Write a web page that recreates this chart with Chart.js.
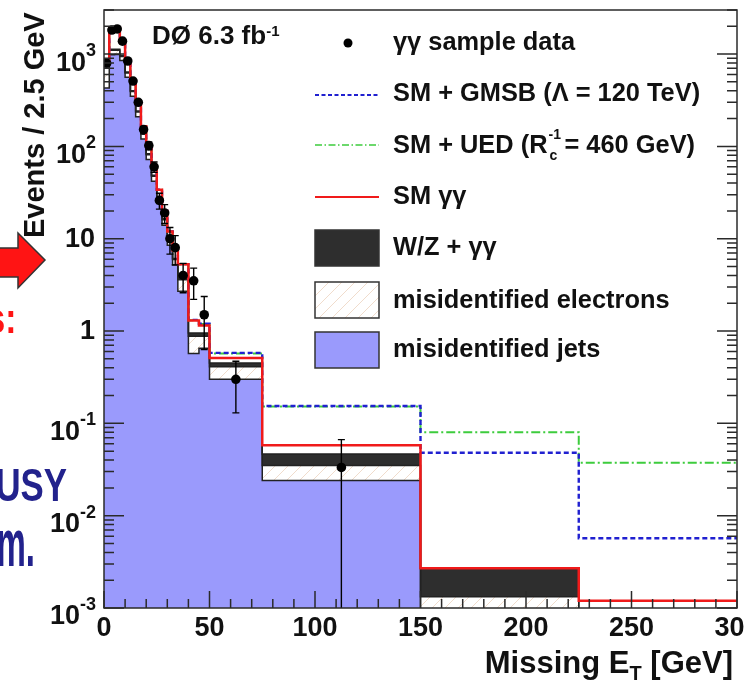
<!DOCTYPE html>
<html lang="en">
<head>
<meta charset="UTF-8">
<title>Missing ET in the diphoton sample</title>
<script src="https://cdn.jsdelivr.net/npm/chart.js"></script>
<style>
    body {
        margin: 0;
        padding: 0;
        width: 744px;
        height: 684px;
        overflow: hidden;
        position: relative;
        background: #fff;
        font-family: "Liberation Sans", Arial, sans-serif;
        font-weight: bold;
        color: #111;
    }
    #plot { position: absolute; left: 0; top: 0; }
    .txt { position: absolute; white-space: nowrap; line-height: 1; }
    .leg { font-size: 25.4px; left: 393px; }
    .slide { text-align: right; transform-origin: right top; }
    sup, sub { line-height: 0; }
</style>
</head>
<body>
    <canvas id="plot" width="744" height="684"></canvas>

    <!-- bits of the slide around the plot -->
    <svg style="position:absolute;left:0;top:0" width="60" height="300">
        <polygon points="-5,248 18,248 18,233 45,260 18,288 18,277 -5,277" fill="#ff1414" stroke="#333" stroke-width="1.5"/>
    </svg>
    <div class="txt slide" style="right:728px;top:298px;font-size:42px;color:#ff1414;transform:scaleX(0.8)">s:</div>
    <div class="txt slide" style="right:677px;top:461px;font-size:47px;color:#22228c;transform:scaleX(0.74)">SUSY</div>
    <div class="txt slide" style="right:709px;top:510px;font-size:66px;color:#22228c;transform:scaleX(0.5)">m.</div>

    <!-- titles -->
    <div class="txt" style="left:152px;top:22px;font-size:26px">D&Oslash; 6.3 fb<sup style="font-size:15px;vertical-align:0.55em">-1</sup></div>
    <div class="txt" style="left:20px;top:238px;font-size:29px;transform-origin:left top;transform:rotate(-90deg)">Events / 2.5 GeV</div>
    <div class="txt" style="right:11px;top:647px;font-size:31px">Missing E<sub style="font-size:20px;vertical-align:-0.35em">T</sub> [GeV]</div>

    <!-- legend text -->
    <div class="txt leg" style="top:29px">&gamma;&gamma; sample data</div>
    <div class="txt leg" style="top:80px">SM + GMSB (&Lambda; = 120 TeV)</div>
    <div class="txt leg" style="top:132px">SM + UED (R<span style="display:inline-block;position:relative;width:17px;height:10px;font-size:14px"><span style="position:absolute;left:1px;top:-16px">-1</span><span style="position:absolute;left:2px;top:5px">c</span></span>= 460 GeV)</div>
    <div class="txt leg" style="top:183px">SM &gamma;&gamma;</div>
    <div class="txt leg" style="top:234px">W/Z + &gamma;&gamma;</div>
    <div class="txt leg" style="top:287px">misidentified electrons</div>
    <div class="txt leg" style="top:336px">misidentified jets</div>

<script>
// bin edges in GeV (variable width)
const binEdges = [0, 2.5, 5, 7.5, 10, 12.5, 15, 17.5, 20, 22.5, 25, 27.5, 30, 32.5, 35, 40, 45, 50, 75, 150, 225, 300];

// backgrounds, events / 2.5 GeV, one value per bin
const misidJets = [430, 980, 990, 850, 560, 350, 210, 120, 72, 42, 24, 14, 8.5, 5.2, 2.7, 0.57, 0.65, 0.30, 0.024, 0, 0];
const misidElectrons = [300, 120, 110, 90, 65, 42, 26, 15, 9, 5.5, 3.3, 2.0, 1.2, 0.75, 0.9, 0.31, 0.23, 0.11, 0.011, 0.00132, 0];
const wzGG = [15, 30, 30, 22, 14, 9, 5.5, 3.2, 2, 1.2, 0.7, 0.4, 0.25, 0.15, 0.4, 0.07, 0.07, 0.04, 0.0115, 0.00138, 0];
const smGG = [75, 820, 820, 388, 191, 99, 48.5, 26.8, 17, 11.3, 6, 3.6, 2.05, 1.4, 1.3, 0.35, 0.2, 0.06, 0.0115, 0, 0.0012];

// signal hypotheses on top of the SM
const smPlusGmsb = [820, 1950, 1950, 1350, 830, 500, 290, 165, 100, 60, 34, 20, 12, 7.5, 5.3, 1.32, 1.2, 0.58, 0.154, 0.048, 0.0057];
const smPlusUed = [820, 1950, 1950, 1350, 830, 500, 290, 165, 100, 60, 34, 20, 12, 7.5, 5.3, 1.31, 1.19, 0.57, 0.152, 0.080, 0.0374];

// data points
const dataX = [1.25, 3.75, 6.25, 8.75, 11.25, 13.75, 16.25, 18.75, 21.25, 23.75, 26.25, 28.75, 31.25, 33.75, 37.5, 42.5, 47.5, 62.5, 112.5];
const dataY = [795, 1820, 1870, 1380, 841, 510, 300, 152, 102, 60, 26, 19, 10, 8, 4.0, 3.5, 1.5, 0.3, 0.0333];
const dataErr = [28, 43, 43, 37, 29, 23, 17, 12, 10, 7.7, 5.1, 4.4, 3.2, 2.8, 1.4, 1.3, 0.87, 0.17, 0.0333];

// axes
const xTicks = [0, 50, 100, 150, 200, 250, 300];
const xMinor = [10, 20, 30, 40, 60, 70, 80, 90, 110, 120, 130, 140, 160, 170, 180, 190, 210, 220, 230, 240, 260, 270, 280, 290];
const yTickValues = [0.001, 0.01, 0.1, 1, 10, 100, 1000];
const yTickBase = ['10', '10', '10', '1', '10', '10', '10'];
const yTickExp = ['-3', '-2', '-1', '', '', '2', '3'];

// stack the backgrounds
const cumJets = misidJets.slice();
const cumEle = cumJets.map((v, i) => v + misidElectrons[i]);
const cumWZ = cumEle.map((v, i) => v + wzGG[i]);
const cumSM = cumWZ.map((v, i) => v + smGG[i]);

// empty bins would be dropped by the log axis, so park them far below the frame
const drawFloor = 1e-6;

// histogram as a stepped line: one point per lower edge, plus the last edge
function steps(values) {
    return binEdges.map((x, i) => {
        const v = values[Math.min(i, values.length - 1)];
        return { x: x, y: v > 0 ? v : drawFloor };
    });
}

// hatch for the electrons
function hatch() {
    const c = document.createElement('canvas');
    c.width = 13; c.height = 13;
    const g = c.getContext('2d');
    g.fillStyle = '#fff';
    g.fillRect(0, 0, 13, 13);
    g.strokeStyle = '#ecd3bf';
    g.lineWidth = 0.8;
    g.beginPath();
    g.moveTo(-1, 14); g.lineTo(14, -1);
    g.moveTo(-3, 3); g.lineTo(3, -3);
    g.moveTo(10, 16); g.lineTo(16, 10);
    g.stroke();
    return g.createPattern(c, 'repeat');
}

const ctx = document.getElementById('plot').getContext('2d');
const hatchFill = hatch();
const colJets = '#9a9afc';
const colWZ = '#2e2e2e';
const colSM = '#f01a1a';
const colGmsb = '#2020d0';
const colUed = '#3dcc3d';

const rootAxes = {
    id: 'rootAxes',
    afterDatasetsDraw(chart) {
        const xs = chart.scales.x, ys = chart.scales.y, a = chart.chartArea;
        const c = chart.ctx;
        c.save();
        c.beginPath();
        c.rect(a.left, a.top, a.right - a.left, a.bottom - a.top);
        c.clip();
        c.strokeStyle = '#000';
        c.lineWidth = 1.4;
        dataX.forEach((x, i) => {
            const px = xs.getPixelForValue(x);
            const lo = dataY[i] - dataErr[i];
            const top = ys.getPixelForValue(dataY[i] + dataErr[i]);
            const bot = lo > 1e-9 ? ys.getPixelForValue(lo) : a.bottom + 2;
            c.beginPath();
            c.moveTo(px, top); c.lineTo(px, bot);
            c.moveTo(px - 3.5, top); c.lineTo(px + 3.5, top);
            if (lo > 1e-9) { c.moveTo(px - 3.5, bot); c.lineTo(px + 3.5, bot); }
            c.stroke();
        });
        c.restore();
    },
    afterDraw(chart) {
        const xs = chart.scales.x, ys = chart.scales.y, a = chart.chartArea;
        const c = chart.ctx;
        c.save();
        c.strokeStyle = '#2a2a2a';
        c.lineWidth = 1.5;
        c.strokeRect(a.left, a.top, a.right - a.left, a.bottom - a.top);

        // inward ticks
        c.beginPath();
        xTicks.forEach(v => {
            const px = xs.getPixelForValue(v);
            c.moveTo(px, a.bottom); c.lineTo(px, a.bottom - 17);
        });
        xMinor.forEach(v => {
            const px = xs.getPixelForValue(v);
            c.moveTo(px, a.bottom); c.lineTo(px, a.bottom - 9);
        });
        yTickValues.forEach(v => {
            for (let m = 1; m <= 9; m++) {
                const val = v * m;
                if (val > ys.max + 1e-9) break;
                const py = ys.getPixelForValue(val);
                const len = m === 1 ? 20 : 10;
                c.moveTo(a.left, py); c.lineTo(a.left + len, py);
                c.moveTo(a.right, py); c.lineTo(a.right - len, py);
            }
        });
        c.stroke();

        // tick labels
        c.fillStyle = '#111';
        c.textAlign = 'center';
        c.textBaseline = 'alphabetic';
        c.font = 'bold 27px "Liberation Sans", Arial, sans-serif';
        xTicks.forEach(v => c.fillText(String(v), xs.getPixelForValue(v), a.bottom + 28));
        c.textAlign = 'right';
        c.textBaseline = 'middle';
        yTickValues.forEach((v, i) => {
            const py = ys.getPixelForValue(v);
            const ex = yTickExp[i];
            if (!ex) {
                c.font = 'bold 27px "Liberation Sans", Arial, sans-serif';
                c.fillText(yTickBase[i], 95, py + 1);
            } else {
                c.font = 'bold 18px "Liberation Sans", Arial, sans-serif';
                const w = c.measureText(ex).width;
                c.fillText(ex, 96, py - 3);
                c.font = 'bold 27px "Liberation Sans", Arial, sans-serif';
                c.fillText(yTickBase[i], 96 - w, py + 9);
            }
        });

        // legend symbols
        c.fillStyle = '#000';
        c.beginPath(); c.arc(348, 43, 4.5, 0, Math.PI * 2); c.fill();
        const legLine = (y, col, dash, w) => {
            c.beginPath();
            c.setLineDash(dash);
            c.strokeStyle = col; c.lineWidth = w;
            c.moveTo(315, y); c.lineTo(379, y); c.stroke();
            c.setLineDash([]);
        };
        legLine(95, colGmsb, [4, 2.5], 2);
        legLine(145, colUed, [7, 2.5, 1.5, 2.5], 1.6);
        legLine(197, colSM, [], 2);
        const legBox = (y, fill) => {
            c.fillStyle = fill;
            c.fillRect(315, y, 64, 36);
            c.strokeStyle = '#333'; c.lineWidth = 1.5;
            c.strokeRect(315, y, 64, 36);
        };
        legBox(230, colWZ);
        legBox(282, hatchFill);
        legBox(332, colJets);
        c.restore();
    }
};

new Chart(ctx, {
    type: 'line',
    data: {
        datasets: [
            { label: 'misidentified jets', data: steps(cumJets), fill: 'start', backgroundColor: colJets,
              borderColor: '#222', borderWidth: 1.5, order: 6 },
            { label: 'misidentified electrons', data: steps(cumEle), fill: '-1', backgroundColor: hatchFill,
              borderColor: '#222', borderWidth: 1.5, order: 5 },
            { label: 'W/Z + gg', data: steps(cumWZ), fill: '-1', backgroundColor: colWZ,
              borderColor: '#222', borderWidth: 1.5, order: 4 },
            { label: 'SM + UED', data: steps(smPlusUed), fill: false, borderColor: colUed, borderWidth: 2,
              borderDash: [9, 3, 2, 3], order: 3 },
            { label: 'SM + GMSB', data: steps(smPlusGmsb), fill: false, borderColor: colGmsb, borderWidth: 2.4,
              borderDash: [5, 3], order: 2 },
            { label: 'SM gg', data: steps(cumSM), fill: false, borderColor: colSM, borderWidth: 2.5, order: 1 },
            { label: 'data', type: 'scatter', data: dataX.map((x, i) => ({ x: x, y: dataY[i] })),
              pointRadius: 4.8, pointBackgroundColor: '#000', pointBorderWidth: 0, order: 0 }
        ]
    },
    options: {
        responsive: false,
        animation: false,
        events: [],
        devicePixelRatio: 1,
        layout: { padding: { left: 104, right: 7, top: 10, bottom: 76 } },
        elements: {
            line: { stepped: 'before', tension: 0 },
            point: { radius: 0 }
        },
        scales: {
            x: { type: 'linear', min: 0, max: 300, display: false },
            y: { type: 'logarithmic', min: 0.001, max: 3000, display: false }
        },
        plugins: {
            legend: { display: false },
            tooltip: { enabled: false },
            filler: { drawTime: 'beforeDatasetsDraw' }
        }
    },
    plugins: [rootAxes]
});
</script>
</body>
</html>
